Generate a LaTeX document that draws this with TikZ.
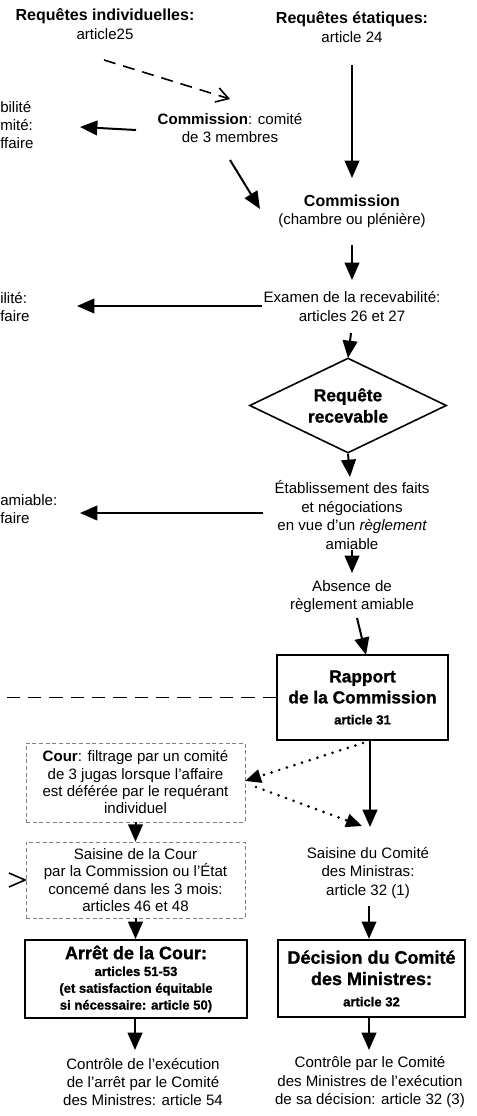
\documentclass[tikz,border=0pt]{standalone}
\usepackage{fontspec}
\setmainfont{Liberation Sans}
\newfontfamily\heavyfont{Liberation Sans}[BoldFeatures={FakeBold=1.2}]
\usetikzlibrary{arrows.meta,shapes.geometric}
\newcommand\nfs{\fontsize{11.3}{13.8}\selectfont}
\newcommand\hfs{\heavyfont\bfseries}
\tikzset{
  txt/.style={align=center, inner sep=0pt, font=\nfs},
  frag/.style={align=left, inner sep=0pt, anchor=west, font=\nfs},
  arr/.style={line width=1.5pt, -{Triangle[length=13pt,width=11pt]}},
  dasharr/.style={line width=1.2pt, dash pattern=on 9pt off 6pt, -{Straight Barb[length=9pt,width=11pt,line width=1.2pt]}},
  dotarr/.style={line width=2.2pt, dash pattern=on 0pt off 6pt, line cap=round, -{Triangle[length=12pt,width=10pt]}},
  thickbox/.style={draw, line width=1.5pt, inner sep=0pt, align=center},
  thinbox/.style={draw=gray, line width=0.5pt, dash pattern=on 3pt off 2pt, inner sep=0pt, align=center, font=\fontsize{11.3}{13}\selectfont},
}
\begin{document}
\begin{tikzpicture}[x=0.75pt,y=-0.75pt]
\useasboundingbox (0,0) rectangle (477,1116);

% text nodes
\node[txt] (reqind) at (105,24) {{\fontsize{12}{14}\selectfont\bfseries Requêtes individuelles:}\\article25};
\node[txt] (reqeta) at (352,27) {{\fontsize{12}{14}\selectfont\bfseries Requêtes étatiques:}\\article 24};
\node[txt] (comite) at (230,128) {\textbf{Commission}: comité\\de 3 membres};
\node[txt] (comm) at (352,211) {{\fontsize{12}{14}\selectfont\bfseries Commission}\\(chambre ou plénière)};
\node[txt] (examen) at (352,306.5) {Examen de la recevabilité:\\articles 26 et 27};
\node[draw, diamond, line width=1.2pt, aspect=2.07, minimum width=147.75pt, minimum height=71.25pt, inner sep=0pt, align=center, font=\hfs\fontsize{13}{16}\selectfont] (recev) at (348,405.5) {Requête\\recevable};
\node[txt] (etab) at (352,515) {Établissement des faits\\et négociations\\en vue d'un {\itshape règlement}\\amiable};
\node[txt] (absence) at (352,596.5) {Absence de\\règlement amiable};

% left cut-off fragments
\node[frag] (frag1) at (0,125) {bilité\\mité:\\ffaire};
\node[frag] (frag2) at (0,307) {ilité:\\faire};
\node[frag] (frag3) at (0,509) {amiable:\\faire};

% boxes
\node[thickbox, minimum width=128.25pt, minimum height=63.75pt, font=\hfs\fontsize{13}{15.75}\selectfont] (rapport) at (362.5,697.5) {Rapport\\de la Commission\\{\fontsize{9.8}{12}\selectfont article 31}};
\node[thinbox, minimum width=164.25pt, minimum height=59.25pt] (cour) at (135.5,782.5) {\textbf{Cour}: filtrage par un comité\\de 3 jugas lorsque l'affaire\\est déférée par le requérant\\individuel};
\node[thinbox, minimum width=164.25pt, minimum height=57pt] (saisC) at (135.5,880) {Saisine de la Cour\\par la Commission ou l'État\\concemé dans les 3 mois:\\articles 46 et 48};
\node[txt] (saisM) at (368,873) {Saisine du Comité\\des Ministras:\\article 32 (1)};
\node[thickbox, minimum width=166.5pt, minimum height=58.5pt, font=\hfs\fontsize{9.8}{12.6}\selectfont] (arret) at (136,979) {{\fontsize{13.5}{15}\selectfont Arrêt de la Cour:}\\articles 51-53\\(et satisfaction équitable\\si nécessaire: article 50)};
\node[thickbox, minimum width=140pt, minimum height=58pt, font=\hfs\fontsize{13.5}{16}\selectfont] (decis) at (371.5,978.5) {Décision du Comité\\des Ministres:\\{\fontsize{9.8}{12}\selectfont article 32}};
\node[txt] (ctrl1) at (143,1082) {Contrôle de l'exécution\\de l'arrêt par le Comité\\des Ministres: article 54};
\node[txt] (ctrl2) at (370,1082) {Contrôle par le Comité\\des Ministres de l'exécution\\de sa décision: article 32 (3)};

% connector end points
\coordinate (a1s) at (104,60);   \coordinate (a1e) at (230,99);
\coordinate (a2s) at (352,65);   \coordinate (a2e) at (352,178);
\coordinate (a3s) at (136,130);  \coordinate (a3e) at (80,127);
\coordinate (a4s) at (230,160);  \coordinate (a4e) at (260,209);
\coordinate (a5s) at (352,245);  \coordinate (a5e) at (352,280);
\coordinate (a6s) at (262,306);  \coordinate (a6e) at (77,306);
\coordinate (a7s) at (351,333);  \coordinate (a7e) at (348,358);
\coordinate (a8e) at (350,477);
\coordinate (a9s) at (263,513);  \coordinate (a9e) at (80,513);
\coordinate (a10s) at (352,550); \coordinate (a10e) at (352,573);
\coordinate (a11s) at (357,618); \coordinate (a11e) at (366,655);
\coordinate (dl) at (0,697.5);
\coordinate (a13e) at (370,827);
\coordinate (a14s) at (363,743); \coordinate (a14e) at (245,781);
\coordinate (a15s) at (256,787); \coordinate (a15e) at (362,826);
\coordinate (a18s) at (369,906);
\coordinate (a19e) at (135,1050);
\coordinate (a20e) at (369,1050);

% connectors
\draw[dasharr] (a1s) -- (a1e);
\draw[arr] (a2s) -- (a2e);
\draw[arr] (a3s) -- (a3e);
\draw[arr] (a4s) -- (a4e);
\draw[arr] (a5s) -- (a5e);
\draw[arr] (a6s) -- (a6e);
\draw[arr] (a7s) -- (a7e);
\draw[arr] (recev.south) -- (a8e);
\draw[arr] (a9s) -- (a9e);
\draw[arr] (a10s) -- (a10e);
\draw[arr] (a11s) -- (a11e);
\draw[line width=1.2pt, dash pattern=on 10pt off 6pt] (rapport.west) -- (dl);
\draw[arr] (rapport.south -| a13e) -- (a13e);
\draw[dotarr] (a14s) -- (a14e);
\draw[dotarr] (a15s) -- (a15e);
\draw[arr] (cour.south) -- (saisC.north);
\draw[arr] (saisC.south) -- (arret.north -| saisC.south);
\draw[arr] (a18s) -- (decis.north -| a18s);
\draw[arr] (arret.south -| a19e) -- (a19e);
\draw[arr] (decis.south -| a20e) -- (a20e);
% cut-off open arrow tip at the left edge
\draw[line width=1.2pt] (9,873) -- (25,880) -- (9,887);
\end{tikzpicture}
\end{document}
